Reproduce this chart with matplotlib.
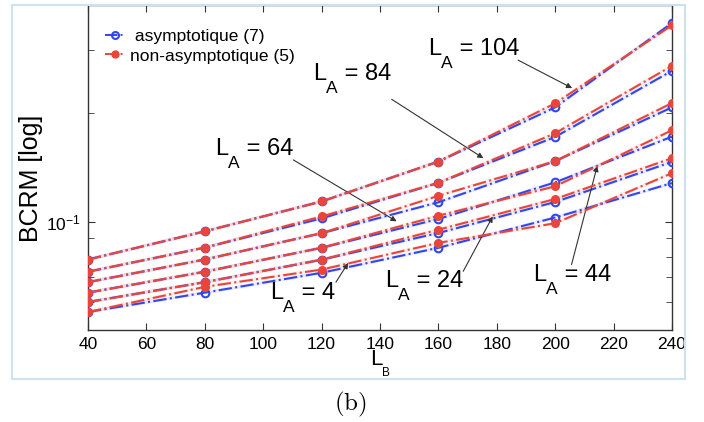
import matplotlib
matplotlib.use("Agg")
import matplotlib.pyplot as plt
from matplotlib.ticker import FixedLocator, NullFormatter, FixedFormatter
from matplotlib.patches import Rectangle
from matplotlib.lines import Line2D

# ---------------- data ----------------
LB = [40, 80, 120, 160, 200, 240]
LA_values = [4, 24, 44, 64, 84, 104]

asym_LA4   = [0.0561, 0.0635, 0.0721, 0.0846, 0.1027, 0.1280]
asym_LA24  = [0.0598, 0.0679, 0.0784, 0.0930, 0.1134, 0.1466]
asym_LA44  = [0.0635, 0.0726, 0.0846, 0.1017, 0.1286, 0.1723]
asym_LA64  = [0.0679, 0.0785, 0.0929, 0.1132, 0.1473, 0.2078]
asym_LA84  = [0.0726, 0.0847, 0.1021, 0.1282, 0.1720, 0.2626]
asym_LA104 = [0.0785, 0.0940, 0.1138, 0.1469, 0.2078, 0.3565]

nonasym_LA4   = [0.0561, 0.0659, 0.0736, 0.0873, 0.0990, 0.1364]
nonasym_LA24  = [0.0598, 0.0679, 0.0784, 0.0950, 0.1156, 0.1501]
nonasym_LA44  = [0.0635, 0.0726, 0.0846, 0.1039, 0.1254, 0.1795]
nonasym_LA64  = [0.0679, 0.0785, 0.0929, 0.1180, 0.1473, 0.2136]
nonasym_LA84  = [0.0726, 0.0847, 0.1034, 0.1282, 0.1761, 0.2710]
nonasym_LA104 = [0.0785, 0.0940, 0.1138, 0.1469, 0.2132, 0.3514]

asym_series = [asym_LA4, asym_LA24, asym_LA44, asym_LA64, asym_LA84, asym_LA104]
nonasym_series = [nonasym_LA4, nonasym_LA24, nonasym_LA44, nonasym_LA64, nonasym_LA84, nonasym_LA104]

legend_labels = [" asymptotique (7)", "non-asymptotique (5)"]
x_ticks = [40, 60, 80, 100, 120, 140, 160, 180, 200, 220, 240]

# ---------------- figure ----------------
plt.rcParams['font.family'] = ['Liberation Sans', 'DejaVu Sans']
plt.rcParams['mathtext.fontset'] = 'custom'
plt.rcParams['mathtext.rm'] = 'Liberation Sans'
plt.rcParams['mathtext.it'] = 'Liberation Sans'

fig = plt.figure(figsize=(7.04, 4.22), dpi=100)
ax = fig.add_axes([88/704, 1-330/422, (672-88)/704, (330-5)/422])

BLUE = '#3246ea'
RED = '#e8463a'

for ys in asym_series:
    ax.plot(LB, ys, '-', color=BLUE, lw=2.6, alpha=0.10, zorder=2)
    ax.plot(LB, ys, '-.', color=BLUE, lw=1.5, marker='o', ms=5.5, mfc='none',
            mec=BLUE, mew=1.5, zorder=3)
for ys in nonasym_series:
    ax.plot(LB, ys, '-', color=RED, lw=2.6, alpha=0.10, zorder=4)
    ax.plot(LB, ys, '-.', color=RED, lw=1.5, marker='o', ms=5.5, mfc=RED,
            mec=RED, zorder=5)

ax.set_yscale('log')
ax.set_xlim(40, 240)
ax.set_ylim(0.05, 0.4)
ax.xaxis.set_major_locator(FixedLocator(x_ticks))
ax.yaxis.set_major_locator(FixedLocator([0.1]))
ax.yaxis.set_major_formatter(FixedFormatter([r'$10^{-1}$']))
ax.yaxis.set_minor_locator(FixedLocator([0.05, 0.06, 0.07, 0.08, 0.09, 0.2, 0.3, 0.4]))
ax.yaxis.set_minor_formatter(NullFormatter())
ax.tick_params(which='both', direction='in', top=True, right=True,
               labelsize=12.5, color='#333333', pad=5)
ax.tick_params(which='major', length=5)
ax.tick_params(which='minor', length=4)
for s in ax.spines.values():
    s.set_color('#333333')
    s.set_linewidth(1.0)

# legend
h1 = Line2D([], [], ls='-.', color=BLUE, lw=1.4, marker='o', ms=5, mfc='none', mec=BLUE, mew=1.5)
h2 = Line2D([], [], ls='-.', color=RED, lw=1.4, marker='o', ms=5, mfc=RED, mec=RED)
ax.legend([h1, h2], legend_labels, loc='upper left', frameon=False, fontsize=12.5,
          handlelength=1.1, handletextpad=0.3, labelspacing=0.25,
          bbox_to_anchor=(0.0, 0.98), borderaxespad=0.6)


def label_LA(x, y, sub, rest, transform, big, small, dy):
    t1 = ax.text(x, y, "L", fontsize=big, va='baseline', ha='left',
                 transform=transform, color='black', clip_on=False)
    t2 = ax.annotate(sub, xy=(1, 0), xycoords=t1, xytext=(0, dy),
                     textcoords='offset points', fontsize=small,
                     va='top', ha='left', color='black', annotation_clip=False)
    if rest:
        ax.annotate(rest, xy=(1, 0), xycoords=(t2, t1), fontsize=big,
                    va='bottom', ha='left', color='black', annotation_clip=False)


# annotation placement: (LA, text x, text y, arrow tail, arrow head)
annots = [
    (104, 156.4, 0.2901, (187.3, 0.2811), (205.8, 0.2350)),
    (84, 117.1, 0.2474, (144.0, 0.2188), (175.4, 0.1501)),
    (64, 83.5, 0.1533, (110.3, 0.1485), (145.7, 0.1002)),
    (4, 102.3, 0.0608, (124.9, 0.0679), (129.1, 0.0768)),
    (24, 141.7, 0.0657, (168.5, 0.0728), (178.6, 0.1034)),
    (44, 192.4, 0.0682, (205.6, 0.0760), (214.4, 0.1429)),
]
for la, tx, ty, tail, head in annots:
    label_LA(tx, ty, "A", " = %d" % la, ax.transData, 17, 12.5, 3)
    ax.annotate('', xy=head, xytext=tail,
                arrowprops=dict(arrowstyle='-|>', color='#333333', lw=0.8,
                                mutation_scale=8, shrinkA=0, shrinkB=0))

# axis labels
fig.text(31/704, 1-178/422, "BCRM [log]", rotation=90, fontsize=18,
         ha='center', va='center')
label_LA(370/704, 1-365/422, "B", "", fig.transFigure, 16, 8.5, 2)

# caption
fig.text(350/704, 1-404/422, r"$\mathrm{(b)}$", math_fontfamily='cm',
         fontsize=18, ha='center', va='center')

# outer light-blue frame
fig.patches.append(Rectangle((12/704, 1-379/422), (685-12)/704, (379-5)/422,
                             transform=fig.transFigure, fill=False,
                             edgecolor='#cfe0ee', lw=1.5, zorder=0))

fig.savefig('out.png', dpi=100)
